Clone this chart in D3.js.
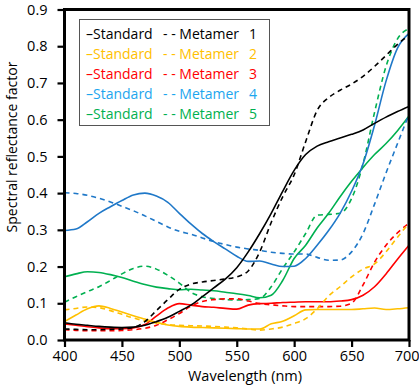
<!DOCTYPE html>
<html><head><meta charset="utf-8">
<script src="https://cdn.jsdelivr.net/npm/d3@7"></script>
<style>html,body{margin:0;padding:0;background:#fff}svg{display:block}text{font-family:"Open Sans",sans-serif}</style>
</head><body><div id="chart"></div>
<script>
const wavelengths = d3.range(400, 701, 10);
const xTicks = [400, 450, 500, 550, 600, 650, 700];
const yTicks = [0, 0.1, 0.2, 0.3, 0.4, 0.5, 0.6, 0.7, 0.8, 0.9];
const xTitle = "Wavelength (nm)";
const yTitle = "Spectral reflectance factor";
const seriesNames = ["1", "2", "3", "4", "5"];
const seriesColors = ["#000000", "#FFC000", "#FF0000", "#1F78C8", "#00B050"];
const legendTextColors = ["#000000", "#FFC000", "#FF0000", "#1CA6EE", "#00B050"];

const standard1 = [0.047,0.043,0.040,0.037,0.035,0.034,0.035,0.040,0.050,0.062,0.078,0.095,0.118,0.142,0.166,0.197,0.240,0.290,0.345,0.405,0.462,0.505,0.528,0.540,0.550,0.560,0.572,0.590,0.607,0.622,0.636];
const metamer1 = [0.030,0.029,0.028,0.028,0.029,0.030,0.034,0.050,0.080,0.110,0.138,0.152,0.158,0.162,0.166,0.172,0.188,0.240,0.320,0.390,0.450,0.540,0.625,0.660,0.680,0.697,0.718,0.745,0.775,0.805,0.830];
const standard2 = [0.050,0.068,0.085,0.093,0.086,0.076,0.066,0.057,0.048,0.041,0.037,0.035,0.034,0.033,0.032,0.031,0.030,0.030,0.044,0.051,0.066,0.082,0.083,0.083,0.083,0.083,0.085,0.087,0.083,0.085,0.088];
const metamer2 = [0.082,0.086,0.090,0.088,0.080,0.070,0.060,0.052,0.046,0.042,0.040,0.039,0.038,0.037,0.035,0.033,0.030,0.027,0.030,0.035,0.045,0.058,0.085,0.120,0.145,0.172,0.193,0.207,0.240,0.280,0.318];
const standard3 = [0.044,0.040,0.036,0.033,0.031,0.031,0.033,0.042,0.065,0.087,0.099,0.095,0.091,0.089,0.086,0.084,0.095,0.099,0.100,0.102,0.103,0.104,0.104,0.104,0.106,0.110,0.122,0.145,0.180,0.220,0.258];
const metamer3 = [0.028,0.026,0.025,0.025,0.025,0.026,0.028,0.032,0.040,0.055,0.072,0.092,0.105,0.110,0.112,0.112,0.106,0.099,0.096,0.093,0.091,0.091,0.091,0.091,0.092,0.100,0.150,0.212,0.258,0.292,0.318];
const standard4 = [0.298,0.302,0.322,0.345,0.363,0.380,0.395,0.400,0.392,0.375,0.345,0.316,0.290,0.268,0.248,0.228,0.214,0.215,0.207,0.200,0.201,0.222,0.258,0.298,0.345,0.405,0.480,0.585,0.705,0.795,0.835];
const metamer4 = [0.401,0.399,0.394,0.386,0.376,0.364,0.352,0.338,0.323,0.308,0.296,0.288,0.278,0.268,0.260,0.253,0.248,0.244,0.239,0.236,0.234,0.234,0.225,0.217,0.218,0.240,0.290,0.370,0.455,0.535,0.615];
const standard5 = [0.172,0.180,0.186,0.184,0.178,0.170,0.160,0.151,0.144,0.140,0.137,0.138,0.136,0.134,0.130,0.126,0.121,0.115,0.122,0.162,0.222,0.258,0.305,0.345,0.390,0.432,0.470,0.505,0.535,0.570,0.610];
const metamer5 = [0.103,0.118,0.132,0.145,0.162,0.180,0.195,0.201,0.193,0.176,0.155,0.130,0.118,0.113,0.110,0.109,0.110,0.113,0.145,0.195,0.240,0.290,0.340,0.342,0.345,0.385,0.480,0.620,0.745,0.820,0.848];

const standards = [standard1, standard2, standard3, standard4, standard5];
const metamers = [metamer1, metamer2, metamer3, metamer4, metamer5];

const W = 419, H = 387;
const m = {left: 64.5, right: 10, top: 9.5, bottom: 47};
const svg = d3.select("#chart").append("svg").attr("width", W).attr("height", H);
const x = d3.scaleLinear().domain([400, 700]).range([m.left, W - m.right]);
const y = d3.scaleLinear().domain([0, 0.9]).range([H - m.bottom, m.top]);

svg.append("clipPath").attr("id", "clip").append("rect")
  .attr("x", x(400)).attr("y", y(0.9)).attr("width", x(700) - x(400)).attr("height", y(0) - y(0.9));

const line = d3.line().x((d, i) => x(wavelengths[i])).y(d => y(d)).curve(d3.curveMonotoneX);
const g = svg.append("g").attr("clip-path", "url(#clip)");
[4, 3, 2, 1, 0].forEach(k => {
  g.append("path").attr("d", line(metamers[k])).attr("fill", "none")
    .attr("stroke", seriesColors[k]).attr("stroke-width", 1.6).attr("stroke-dasharray", "5,4");
  g.append("path").attr("d", line(standards[k])).attr("fill", "none")
    .attr("stroke", seriesColors[k]).attr("stroke-width", 1.6);
});

// axes
const xAxis = svg.append("g").attr("transform", `translate(0,${y(0)})`)
  .call(d3.axisBottom(x).tickValues(xTicks).tickSize(7).tickPadding(4).tickFormat(d3.format("d")));
const yAxis = svg.append("g").attr("transform", `translate(${x(400)},0)`)
  .call(d3.axisLeft(y).tickValues(yTicks).tickSize(7).tickPadding(10).tickFormat(d3.format(".1f")));
[xAxis, yAxis].forEach(a => {
  a.select(".domain").remove();
  a.selectAll(".tick line").attr("stroke", "#000").attr("stroke-width", 2.2);
  a.selectAll(".tick text").attr("font-size", 14.5).attr("fill", "#000").attr("font-family", "Open Sans");
});
// keep the last x label inside the window
xAxis.selectAll(".tick text").filter(d => d === 700).attr("text-anchor", "end").attr("x", 10);

// frame
svg.append("rect").attr("x", x(400)).attr("y", y(0.9)).attr("width", x(700) - x(400)).attr("height", y(0) - y(0.9))
  .attr("fill", "none").attr("stroke", "#000").attr("stroke-width", 3);

// titles
svg.append("text").attr("x", 245).attr("y", 381).attr("text-anchor", "middle")
  .attr("font-size", 14.5).attr("fill", "#000").text(xTitle);
svg.append("text").attr("transform", `translate(17,147) rotate(-90)`).attr("text-anchor", "middle")
  .attr("font-size", 14).attr("fill", "#000").text(yTitle);

// legend
const lg = svg.append("g");
lg.append("rect").attr("x", 79.5).attr("y", 19.5).attr("width", 190).attr("height", 106)
  .attr("fill", "#fff").attr("stroke", "#555").attr("stroke-width", 1);
seriesNames.forEach((n, i) => {
  const yy = 39 + i * 20;
  const c = legendTextColors[i];
  lg.append("text").attr("x", 86).attr("y", yy).attr("font-size", 14).attr("fill", c).text("\u2013Standard");
  lg.append("text").attr("x", 163).attr("y", yy).attr("font-size", 14).attr("fill", c).text("- - Metamer");
  lg.append("text").attr("x", 253).attr("y", yy).attr("font-size", 14).attr("fill", c).attr("text-anchor", "middle").text(n);
});
</script></body></html>
